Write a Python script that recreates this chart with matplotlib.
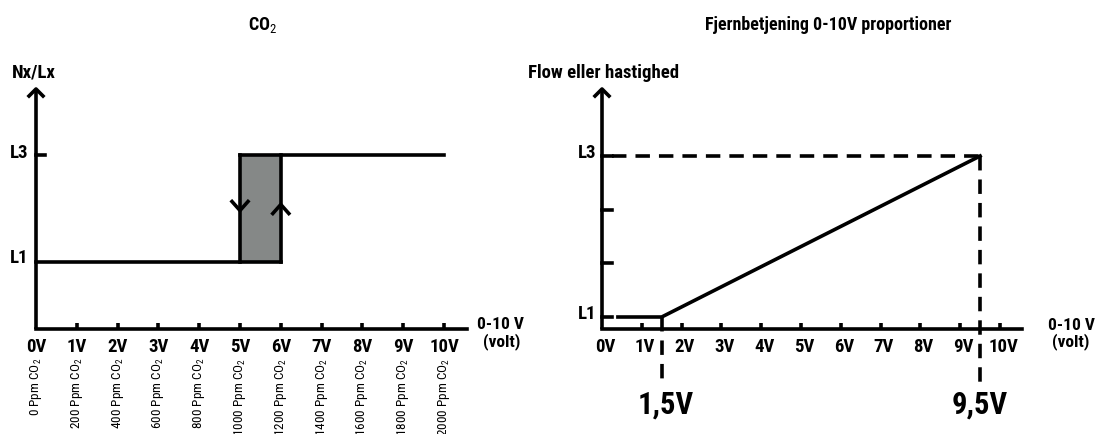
import numpy as np
import matplotlib
matplotlib.use("Agg")
import matplotlib.pyplot as plt
from matplotlib import font_manager

# pick a condensed font (the original uses a condensed grotesk)
names = {f.name for f in font_manager.fontManager.ttflist}
cond = 'DejaVu Sans'
for cand in ['Roboto Condensed', 'Barlow Condensed', 'Archivo Narrow', 'Asap Condensed']:
    if cand in names:
        cond = cand
        break
plt.rcParams['font.family'] = [cond, 'DejaVu Sans']
plt.rcParams['mathtext.fontset'] = 'custom'
plt.rcParams['mathtext.rm'] = cond
plt.rcParams['mathtext.it'] = cond
plt.rcParams['mathtext.bf'] = cond + ':bold'

# ---- data ----
volts = [0, 1, 2, 3, 4, 5, 6, 7, 8, 9, 10]
volt_labels = ['0V', '1V', '2V', '3V', '4V', '5V', '6V', '7V', '8V', '9V', '10V']
ppm = [0, 200, 400, 600, 800, 1000, 1200, 1400, 1600, 1800, 2000]

# left: CO2 step with hysteresis
co2_low_x = [0, 6]        # L1 level up to 6V
co2_high_x = [5, 10]      # L3 level from 5V
co2_band = [5, 6]         # hysteresis band
L1_left, L3_left = 1, 3

# right: proportional 0-10V
prop_x = [0.4, 1.5, 9.5]
prop_y = [1, 1, 4]
right_levels = [1, 2, 3, 4]
L1_right, L3_right = 1, 4
v_start, v_end = 1.5, 9.5

W, H = 1097, 435
fig = plt.figure(figsize=(W / 100, H / 100), dpi=100)


def make_ax(x0px, x1px, xv0, xv1, y0px, y1px, yv0, yv1):
    # axes over the whole figure, data mapped from pixel anchors
    ax = fig.add_axes([0, 0, 1, 1])
    a = (xv1 - xv0) / (x1px - x0px)
    b = (yv1 - yv0) / (y1px - y0px)
    ax.set_xlim(xv0 - x0px * a, xv0 + (W - x0px) * a)
    ax.set_ylim(yv0 + (H - y0px) * b, yv0 - y0px * b)
    ax.axis('off')
    ax.patch.set_alpha(0)
    return ax, a, -b


lw = 2.6
bold = dict(fontweight='bold', color='black')

# ================= left panel =================
ax, px_x, px_y = make_ax(36, 444, 0, 10, 263, 156, L1_left, L3_left)
base = L1_left - 67 * px_y
top = L3_left + 66 * px_y
xend = 10.56

ax.plot([0, 0], [base, top], color='k', lw=lw, solid_capstyle='butt')
ax.plot([0, xend], [base, base], color='k', lw=lw, solid_capstyle='projecting')
ax.plot([-7 * px_x, 0, 7 * px_x], [top - 7 * px_y, top, top - 7 * px_y], color='k', lw=lw)

for v in volts[1:]:
    ax.plot([v, v], [base, base + 6 * px_y], color='k', lw=lw, solid_capstyle='butt')
ax.plot([0, 9 * px_x], [L3_left, L3_left], color='k', lw=lw)

ax.fill_between(co2_band, L1_left, L3_left, color='#858887', lw=0)
ax.plot(co2_low_x, [L1_left, L1_left], color='k', lw=lw)
ax.plot(co2_high_x, [L3_left, L3_left], color='k', lw=lw)
ax.plot([co2_band[0]] * 2, [L1_left, L3_left], color='k', lw=lw)
ax.plot([co2_band[1]] * 2, [L1_left, L3_left], color='k', lw=lw)

# hysteresis arrows
ym = 2.0
ax.plot([5 - 8 * px_x, 5, 5 + 8 * px_x], [ym + 7 * px_y, ym - 2 * px_y, ym + 7 * px_y], color='k', lw=lw)
ax.plot([6 - 8 * px_x, 6, 6 + 8 * px_x], [ym - 5 * px_y, ym + 4 * px_y, ym - 5 * px_y], color='k', lw=lw)

for v, lab in zip(volts, volt_labels):
    ax.text(v, base - 17 * px_y, lab, ha='center', va='center', fontsize=13.5, **bold)
for v, p in zip(volts, ppm):
    ax.text(v, base - 28 * px_y, f'{p} Ppm CO$_2$', rotation=90, ha='center', va='top',
            fontsize=9.5, color='black')

ax.text(-24 * px_x, top + 17 * px_y, 'Nx/Lx', ha='left', va='center', fontsize=13.5, **bold)
ax.text(-26 * px_x, L3_left + 3 * px_y, 'L3', ha='left', va='center', fontsize=13.5, **bold)
ax.text(-26 * px_x, L1_left + 5 * px_y, 'L1', ha='left', va='center', fontsize=13.5, **bold)
ax.text(xend + 10 * px_x, base + 5 * px_y, '0-10 V', ha='left', va='center', fontsize=12.5, **bold)
ax.text(xend + 16 * px_x, base - 12 * px_y, '(volt)', ha='left', va='center', fontsize=12.5, **bold)
ax.text(5.55, top + 65 * px_y, 'CO$_2$', ha='center', va='center', fontsize=13, **bold)

# ================= right panel =================
ax, px_x, px_y = make_ax(602, 1000, 0, 10, 318, 157, L1_right, L3_right)
base = L1_right - 12 * px_y
top = L3_right + 67 * px_y

ax.plot([0, 0], [base, top], color='k', lw=lw, solid_capstyle='butt')
ax.plot([0, xend], [base, base], color='k', lw=lw, solid_capstyle='projecting')
ax.plot([-7 * px_x, 0, 7 * px_x], [top - 7 * px_y, top, top - 7 * px_y], color='k', lw=lw)

for v in volts[1:]:
    ax.plot([v, v], [base, base + 6 * px_y], color='k', lw=lw, solid_capstyle='butt')
for lv in right_levels:
    ax.plot([0, 10 * px_x], [lv, lv], color='k', lw=lw)

dash = dict(color='k', lw=lw, dashes=(4, 2.5))
ax.plot([10 * px_x, v_end], [L3_right, L3_right], **dash)
ax.plot([v_end, v_end], [L3_right, L1_right - 67 * px_y], **dash)
ax.plot([v_start, v_start], [L1_right, L1_right - 67 * px_y], **dash)
ax.plot(prop_x, prop_y, color='k', lw=lw)

for v, lab in zip(volts, volt_labels):
    ax.text(v + 3 * px_x, base - 17 * px_y, lab, ha='center', va='center', fontsize=13.5, **bold)

ax.text(v_start + 4 * px_x, L1_right - 87 * px_y, '1,5V', ha='center', va='center', fontsize=22, **bold)
ax.text(v_end, L1_right - 87 * px_y, '9,5V', ha='center', va='center', fontsize=22, **bold)

ax.text(-74 * px_x, top + 17 * px_y, 'Flow eller hastighed', ha='left', va='center', fontsize=13.5, **bold)
ax.text(-24 * px_x, L3_right + 4 * px_y, 'L3', ha='left', va='center', fontsize=13.5, **bold)
ax.text(-24 * px_x, L1_right + 4 * px_y, 'L1', ha='left', va='center', fontsize=13.5, **bold)
ax.text(xend + 26 * px_x, base + 4 * px_y, '0-10 V', ha='left', va='center', fontsize=12.5, **bold)
ax.text(xend + 30 * px_x, base - 12 * px_y, '(volt)', ha='left', va='center', fontsize=12.5, **bold)
ax.text((828 - 602) * px_x, top + 65 * px_y, 'Fjernbetjening 0-10V proportioner', ha='center',
        va='center', fontsize=13, **bold)

fig.savefig('out.png', dpi=100)
